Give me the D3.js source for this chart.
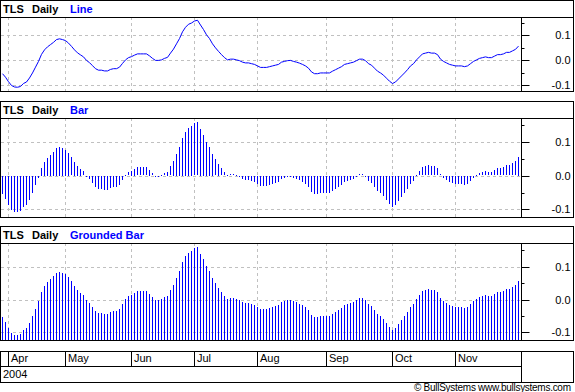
<!DOCTYPE html>
<meta charset="utf-8">
<style>
body { margin: 0; background: white; }
text { font-family: "Liberation Sans", Arial, sans-serif; }
.title { font-size: 11px; font-weight: bold; }
.lbl { font-size: 11px; }
</style>
<script src="https://d3js.org/d3.v7.min.js"></script>
<svg id="chart"></svg>
<script>
// daily values (Mar 30 - Nov 30 2004, trading days)
var values = [
  -0.054, -0.068, -0.086, -0.101, -0.107, -0.108, -0.105, -0.093, -0.087, -0.071,
  -0.051, -0.028, -0.005, 0.023, 0.041, 0.053, 0.062, 0.071, 0.082, 0.085,
  0.082, 0.078, 0.068, 0.055, 0.041, 0.029, 0.021, 0.013, -0.001, -0.010,
  -0.022, -0.034, -0.040, -0.040, -0.043, -0.043, -0.037, -0.034, -0.034, -0.028,
  -0.013, 0.001, 0.010, 0.014, 0.020, 0.025, 0.025, 0.025, 0.025, 0.017,
  0.007, -0.001, -0.001, 0.001, 0.007, 0.011, 0.028, 0.044, 0.065, 0.086,
  0.113, 0.131, 0.143, 0.148, 0.156, 0.159, 0.140, 0.122, 0.101, 0.086,
  0.065, 0.049, 0.035, 0.022, 0.010, 0.001, 0.004, 0.004, 0.001, -0.002,
  -0.008, -0.011, -0.011, -0.014, -0.017, -0.023, -0.029, -0.029, -0.029, -0.026,
  -0.023, -0.020, -0.017, -0.008, -0.005, -0.002, -0.001, -0.005, -0.008, -0.012,
  -0.017, -0.023, -0.032, -0.047, -0.054, -0.054, -0.051, -0.051, -0.051, -0.051,
  -0.044, -0.038, -0.032, -0.026, -0.017, -0.014, -0.011, -0.008, -0.002, 0.004,
  0.004, -0.002, -0.014, -0.020, -0.032, -0.044, -0.051, -0.060, -0.072, -0.084,
  -0.093, -0.087, -0.075, -0.063, -0.051, -0.038, -0.023, -0.014, 0.001, 0.013,
  0.025, 0.028, 0.031, 0.028, 0.028, 0.022, 0.004, -0.005, -0.011, -0.017,
  -0.020, -0.023, -0.023, -0.023, -0.026, -0.023, -0.014, -0.005, 0.001, 0.007,
  0.010, 0.013, 0.010, 0.010, 0.016, 0.022, 0.022, 0.025, 0.031, 0.031,
  0.037, 0.043, 0.056
];
var months = ["Apr", "May", "Jun", "Jul", "Aug", "Sep", "Oct", "Nov"];
var monthStart = [2, 21, 43, 64, 85, 108, 130, 151]; // index of first trading day
var yearLabel = "2004";
var majorTicks = [-0.1, 0.0, 0.1];
var minorTicks = [-0.1, -0.05, 0.0, 0.05, 0.1, 0.15];
var panelNames = ["Line", "Bar", "Grounded Bar"];

var W = 575, H = 392;
var plotRight = 521, boxRight = 573.5;
var blue = "#0000ff", grid = "#c0c0c0";

var svg = d3.select("#chart").attr("width", W).attr("height", H);
svg.append("rect").attr("width", W).attr("height", H).attr("fill", "white");

var x = d3.scaleLinear().domain([-0.5, values.length - 0.5]).range([1, 520]);
function px(i) { return Math.floor(x(i)); }

// panel layout: title row top, plot top, plot bottom
var panels = [
  {name: panelNames[0], top: 0, ptop: 17, pbot: 91},
  {name: panelNames[1], top: 101, ptop: 118, pbot: 217},
  {name: panelNames[2], top: 226, ptop: 243, pbot: 340}
];

panels.forEach(function(p, k) {
  var y = d3.scaleLinear().domain([-0.123, 0.172]).range([p.pbot, p.ptop]);
  var g = svg.append("g");

  // gridlines
  g.selectAll(".hg").data(majorTicks).enter().append("line")
    .attr("x1", 1).attr("x2", plotRight)
    .attr("y1", d => Math.round(y(d)) + 0.5).attr("y2", d => Math.round(y(d)) + 0.5)
    .attr("stroke", grid).attr("stroke-dasharray", "3,3");
  g.selectAll(".vg").data(monthStart).enter().append("line")
    .attr("x1", d => px(d) + 0.5).attr("x2", d => px(d) + 0.5)
    .attr("y1", p.ptop).attr("y2", p.pbot)
    .attr("stroke", grid).attr("stroke-dasharray", "3,3");

  // marks
  if (k == 0) {
    var line = d3.line().x((d, i) => px(i) + 0.5).y(d => y(d));
    g.append("path").datum(values).attr("d", line)
      .attr("fill", "none").attr("stroke", blue).attr("stroke-width", 1);
  } else {
    var base = k == 1 ? y(0) : p.pbot;
    g.selectAll(".bar").data(values).enter().append("rect")
      .attr("x", (d, i) => px(i))
      .attr("width", 1)
      .attr("y", d => Math.round(Math.min(base, y(d))))
      .attr("height", d => Math.max(1, Math.round(Math.abs(base - y(d)))))
      .attr("fill", blue).attr("shape-rendering", "crispEdges");
  }

  // boxes
  g.append("rect").attr("x", 0.5).attr("y", p.top + 0.5)
    .attr("width", boxRight - 0.5).attr("height", p.pbot - p.top)
    .attr("fill", "none").attr("stroke", "black");
  g.append("line").attr("x1", 0.5).attr("x2", boxRight)
    .attr("y1", p.ptop + 0.5).attr("y2", p.ptop + 0.5).attr("stroke", "black");
  g.append("line").attr("x1", plotRight + 0.5).attr("x2", plotRight + 0.5)
    .attr("y1", p.ptop).attr("y2", p.pbot + 0.5).attr("stroke", "black");

  // right axis
  var ax = g.append("g").attr("transform", "translate(" + (plotRight + 0.5) + ",0)");
  ax.call(d3.axisRight(y).tickValues(minorTicks).tickSize(3).tickFormat(""));
  var ax2 = g.append("g").attr("transform", "translate(" + (plotRight + 0.5) + ",0)");
  ax2.call(d3.axisRight(y).tickValues(majorTicks).tickSize(8).tickFormat(d => d.toFixed(1)));
  [ax, ax2].forEach(function(a) {
    a.select(".domain").remove();
    a.selectAll("line").attr("stroke", "black");
    a.selectAll(".tick").attr("transform", d => "translate(0," + (Math.round(y(d)) + 0.5) + ")");
  });
  ax2.selectAll("text").attr("x", 49).attr("text-anchor", "end")
    .attr("font-family", "Liberation Sans, Arial, sans-serif").attr("font-size", 11).attr("fill", "black");

  // title
  var t = g.append("text").attr("class", "title").attr("y", p.top + 13);
  t.append("tspan").attr("x", 3).text("TLS");
  t.append("tspan").attr("x", 32).text("Daily");
  t.append("tspan").attr("x", 70).attr("fill", blue).text(p.name);
});

// date axis box
var ab = svg.append("g");
ab.append("rect").attr("x", 0.5).attr("y", 351.5).attr("width", boxRight - 0.5).attr("height", 31)
  .attr("fill", "none").attr("stroke", "black");
ab.append("line").attr("x1", 0.5).attr("x2", plotRight + 0.5).attr("y1", 366.5).attr("y2", 366.5).attr("stroke", "black");
ab.append("line").attr("x1", plotRight + 0.5).attr("x2", plotRight + 0.5).attr("y1", 351.5).attr("y2", 382.5).attr("stroke", "black");
ab.selectAll(".sep").data(monthStart).enter().append("line")
  .attr("x1", d => px(d) + 0.5).attr("x2", d => px(d) + 0.5)
  .attr("y1", 351.5).attr("y2", 366.5).attr("stroke", "black");
ab.selectAll(".mon").data(months).enter().append("text").attr("class", "lbl")
  .attr("x", (d, i) => px(monthStart[i]) + 3).attr("y", 362).text(d => d);
ab.append("text").attr("class", "lbl").attr("x", 3).attr("y", 378).text(yearLabel);

svg.append("text").attr("x", 571).attr("y", 391).attr("text-anchor", "end")
  .attr("font-size", 10).attr("textLength", 157)
  .text("\u00a9 BullSystems www.bullsystems.com");
</script>
